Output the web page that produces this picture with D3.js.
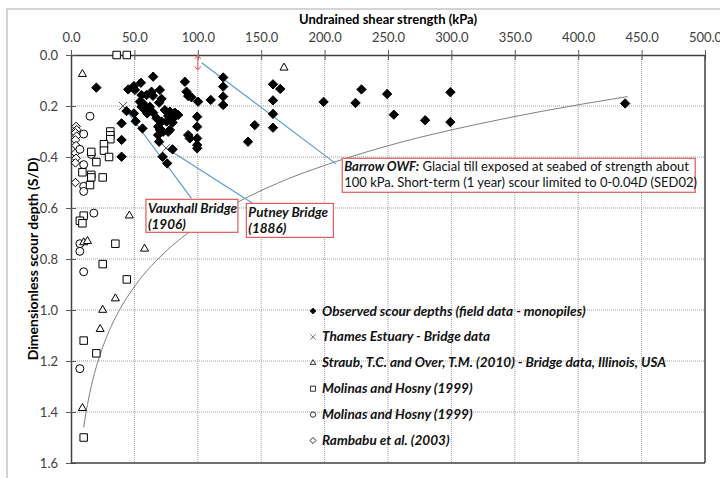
<!DOCTYPE html>
<html>
<head>
<meta charset="utf-8">
<script src="https://cdn.jsdelivr.net/npm/d3@7"></script>
<style>
  body { margin: 0; background: #fff; }
  svg { font-family: Lato, "Open Sans", sans-serif; }
</style>
</head>
<body>
<svg id="chart"></svg>
<script>
// values: [undrained shear strength kPa, S/D]
const monopiles = [
  [20, 0.128], [39.9, 0.268], [39.9, 0.333], [39.9, 0.399], [43.8, 0.22], [45.1, 0.135],
  [49.6, 0.122], [50.4, 0.137], [49.6, 0.229], [51, 0.26], [55.1, 0.109], [64.8, 0.085],
  [55.6, 0.157], [59.6, 0.157], [63.5, 0.144], [70.1, 0.137], [64.6, 0.16], [71.4, 0.172],
  [69.5, 0.187], [54.3, 0.183], [56.9, 0.19], [55.6, 0.203], [62.2, 0.203], [58.3, 0.216],
  [64.8, 0.226], [60.1, 0.229], [67.5, 0.248], [71.4, 0.261], [74, 0.216], [78, 0.222],
  [81.9, 0.226], [84.5, 0.235], [76.6, 0.239], [80.6, 0.248], [75.4, 0.261], [80.1, 0.265],
  [56.4, 0.288], [68.7, 0.281], [70.1, 0.294], [72.7, 0.301], [76.6, 0.301], [78, 0.294],
  [68.7, 0.314], [69.5, 0.34], [92.4, 0.314], [93.7, 0.327], [80.1, 0.37], [72.2, 0.399],
  [75.8, 0.425], [89.8, 0.105], [91.1, 0.144], [92.4, 0.161], [95, 0.166], [100.2, 0.183],
  [110.2, 0.176], [99.5, 0.242], [99.5, 0.281], [99.5, 0.327], [99.5, 0.353], [99.5, 0.366],
  [120, 0.088], [120, 0.124], [120, 0.163], [120, 0.196], [139.6, 0.34], [144.9, 0.275],
  [159.3, 0.115], [165, 0.133], [159.3, 0.178], [159.3, 0.231], [159.3, 0.285], [199.2, 0.184],
  [224.4, 0.188], [229.1, 0.135], [249.3, 0.153], [254.6, 0.234], [279.3, 0.256], [299.2, 0.146],
  [299.2, 0.263], [437, 0.19]
];
const thames = [[41, 0.2], [75, 0.365]];
const straub = [
  [9, 0.075], [168, 0.05], [46, 0.63], [10, 0.735], [13, 0.73], [58, 0.76],
  [35, 0.955], [25, 1.0], [23, 1.075], [9, 1.385]
];
const molinasSq = [
  [36, 0], [44, 0], [31, 0.3], [31, 0.315], [31, 0.33], [26, 0.35], [26, 0.375], [30, 0.4],
  [16, 0.38], [20, 0.42], [9, 0.46], [16, 0.47], [16, 0.48], [25, 0.48], [15, 0.51],
  [10, 0.63], [7, 0.65], [9, 0.66], [35, 0.74], [25, 0.82], [44, 0.88], [10, 1.12],
  [20, 1.17], [10, 1.5]
];
const molinasCi = [
  [15, 0.24], [10, 0.31], [7, 0.37], [16, 0.39], [10, 0.43], [10, 0.515], [10, 0.535],
  [18, 0.62], [7, 0.74], [7, 0.77], [10, 0.85], [7, 1.23]
];
const rambabu = [
  [4, 0.28], [4.5, 0.293], [3.5, 0.305], [4.5, 0.318], [3.5, 0.333], [4, 0.355],
  [3.5, 0.385], [4, 0.405], [3.5, 0.423], [3.5, 0.5]
];
// log trend line drawn in the reference
const trendX = [10, 12, 14, 17, 20, 25, 30, 38, 46, 57, 70, 85, 100, 120, 141, 170, 200, 240, 275, 320, 370, 439];
const trendY = [1.46, 1.398, 1.345, 1.278, 1.222, 1.146, 1.083, 1.002, 0.937, 0.863, 0.793, 0.726,
  0.67, 0.608, 0.553, 0.488, 0.433, 0.37, 0.323, 0.272, 0.222, 0.163];

const xTicks = [0, 50, 100, 150, 200, 250, 300, 350, 400, 450, 500];
const yTicks = [0, 0.2, 0.4, 0.6, 0.8, 1.0, 1.2, 1.4, 1.6];

const legendLabels = [
  'Observed scour depths (field data - monopiles)',
  'Thames Estuary - Bridge data',
  'Straub, T.C. and Over, T.M. (2010) - Bridge data, Illinois, USA',
  'Molinas and Hosny (1999)',
  'Molinas and Hosny (1999)',
  'Rambabu et al. (2003)'
];

const width = 720;
const height = 478;

const x = d3.scaleLinear().domain([0, 500]).range([71, 705]);
const y = d3.scaleLinear().domain([0, 1.6]).range([55, 463]);
const fmt = d3.format('.1f');

const svg = d3.select('#chart')
  .attr('width', width)
  .attr('height', height);

svg.append('rect')
  .attr('width', width).attr('height', height)
  .attr('fill', '#fff');

// outer chart frame
svg.append('rect')
  .attr('x', 7).attr('y', 9)
  .attr('width', 740).attr('height', 500)
  .attr('fill', 'none')
  .attr('stroke', '#d4d4d4')
  .attr('stroke-width', 2);

// grid
const grid = svg.append('g');
grid.selectAll('.vg')
  .data(xTicks.slice(1, -1))
  .enter().append('line')
  .attr('x1', d => x(d)).attr('x2', d => x(d))
  .attr('y1', y(0)).attr('y2', y(1.6))
  .attr('stroke', '#a0a0a0')
  .attr('stroke-dasharray', '1,1');
grid.selectAll('.hg')
  .data(yTicks.slice(1, -1))
  .enter().append('line')
  .attr('y1', d => y(d)).attr('y2', d => y(d))
  .attr('x1', x(0)).attr('x2', x(500))
  .attr('stroke', '#a0a0a0')
  .attr('stroke-dasharray', '1,1');

// axes
const topAxis = svg.append('g')
  .attr('transform', `translate(0,${y(0)})`)
  .call(d3.axisTop(x).tickValues(xTicks).tickFormat(fmt).tickSizeInner(5).tickSizeOuter(0).tickPadding(8));
const leftAxis = svg.append('g')
  .attr('transform', `translate(${x(0)},0)`)
  .call(d3.axisLeft(y).tickValues(yTicks).tickFormat(fmt).tickSizeInner(5).tickSizeOuter(0).tickPadding(8));

[topAxis, leftAxis].forEach(g => {
  g.select('.domain').attr('stroke', '#404040').attr('stroke-width', 1.5);
  g.selectAll('.tick line').attr('stroke', '#595959');
  g.selectAll('.tick text')
    .attr('fill', '#404040')
    .style('font-size', '13px')
    .style('font-family', 'Lato, sans-serif');
});
// ticks cross the axis line on both sides
topAxis.selectAll('.tick line').attr('y1', 5).attr('y2', -5);
leftAxis.selectAll('.tick line').attr('x1', 5).attr('x2', -5);

// right and bottom frame
svg.append('line')
  .attr('x1', x(500)).attr('x2', x(500)).attr('y1', y(0)).attr('y2', y(1.6))
  .attr('stroke', '#404040').attr('stroke-width', 1.5);
svg.append('line')
  .attr('x1', x(0)).attr('x2', x(500)).attr('y1', y(1.6)).attr('y2', y(1.6))
  .attr('stroke', '#404040').attr('stroke-width', 1.5);

// axis titles
svg.append('text')
  .attr('x', 388).attr('y', 24)
  .attr('text-anchor', 'middle')
  .style('font-weight', 'bold')
  .style('font-size', '13px')
  .text('Undrained shear strength (kPa)');
svg.append('text')
  .attr('transform', `translate(38,${(y(0) + y(1.6)) / 2}) rotate(-90)`)
  .attr('text-anchor', 'middle')
  .style('font-weight', 'bold')
  .style('font-size', '14px')
  .text('Dimensionless scour depth (S/D)');

// trend line
const trend = trendX.map((d, i) => [d, trendY[i]]);
svg.append('path')
  .datum(trend)
  .attr('fill', 'none')
  .attr('stroke', '#7f7f7f')
  .attr('stroke-width', 1)
  .attr('d', d3.line().x(d => x(d[0])).y(d => y(d[1])).curve(d3.curveMonotoneX));

// X marker type
const cross = {
  draw(ctx, size) {
    const r = Math.sqrt(size) / 2;
    ctx.moveTo(-r, -r); ctx.lineTo(r, r);
    ctx.moveTo(r, -r); ctx.lineTo(-r, r);
  }
};

const series = [
  { data: monopiles, type: d3.symbolDiamond2, size: 56, fill: '#000', stroke: '#000', lsize: 22 },
  { data: thames, type: cross, size: 64, fill: 'none', stroke: '#595959', lsize: 30 },
  { data: straub, type: d3.symbolTriangle2, size: 46, fill: '#fff', stroke: '#000', lsize: 22 },
  { data: molinasSq, type: d3.symbolSquare, size: 56, fill: '#fff', stroke: '#000', lsize: 26 },
  { data: molinasCi, type: d3.symbolCircle, size: 50, fill: '#fff', stroke: '#000', lsize: 22 },
  { data: rambabu, type: d3.symbolDiamond2, size: 46, fill: '#fff', stroke: '#000', lsize: 24 }
];

// leader lines (drawn under the markers)
const blue = '#5b9bd5';
const leaders = [
  [[103, 0.03], [209, 0.427]],
  [[41, 0.2], [95, 0.562]],
  [[75, 0.365], [143.5, 0.582]]
];
svg.selectAll('.leader')
  .data(leaders)
  .enter().append('line')
  .attr('x1', d => x(d[0][0])).attr('y1', d => y(d[0][1]))
  .attr('x2', d => x(d[1][0])).attr('y2', d => y(d[1][1]))
  .attr('stroke', blue)
  .attr('stroke-width', 1.2);

// series, drawn in reverse so filled monopiles sit on top
series.slice().reverse().forEach(s => {
  svg.append('g').selectAll('path')
    .data(s.data)
    .enter().append('path')
    .attr('transform', d => `translate(${x(d[0])},${y(d[1])})`)
    .attr('d', d3.symbol().type(s.type).size(s.size))
    .attr('fill', s.fill)
    .attr('stroke', s.stroke)
    .attr('stroke-width', 1);
});

// red double arrow at 100 kPa, 0 to 0.04D
const red = '#e05a5a';
svg.append('line')
  .attr('x1', x(100)).attr('x2', x(100)).attr('y1', y(0.005)).attr('y2', y(0.055))
  .attr('stroke', red).attr('stroke-width', 1);
svg.append('path')
  .attr('d', `M${x(100) - 3},${y(0) + 4}L${x(100)},${y(0)}L${x(100) + 3},${y(0) + 4}`)
  .attr('fill', 'none').attr('stroke', red);
svg.append('path')
  .attr('d', `M${x(100) - 3},${y(0.06) - 4}L${x(100)},${y(0.06)}L${x(100) + 3},${y(0.06) - 4}`)
  .attr('fill', 'none').attr('stroke', red);

// annotation boxes
const boxes = [
  { x: 213.9, y: 0.405, w: 353, h: 34 },
  { x: 59.1, y: 0.566, w: 92, h: 33 },
  { x: 138.3, y: 0.582, w: 87, h: 34 }
];
svg.selectAll('.box')
  .data(boxes)
  .enter().append('rect')
  .attr('x', d => x(d.x)).attr('y', d => y(d.y))
  .attr('width', d => d.w).attr('height', d => d.h)
  .attr('fill', '#fff')
  .attr('stroke', red)
  .attr('stroke-width', 1.2);

const barrow = svg.append('text')
  .attr('x', x(213.9) + 2).attr('y', y(0.405) + 13)
  .style('font-size', '13px')
  .attr('fill', '#111');
barrow.append('tspan').style('font-weight', 'bold').style('font-style', 'italic').text('Barrow OWF:');
barrow.append('tspan').text(' Glacial till exposed at seabed of strength about');
const barrow2 = svg.append('text')
  .attr('x', x(213.9) + 2).attr('y', y(0.405) + 29)
  .style('font-size', '13px')
  .attr('fill', '#111');
barrow2.append('tspan').text('100 kPa. Short-term (1 year) scour limited to 0-0.04');
barrow2.append('tspan').style('font-style', 'italic').text('D');
barrow2.append('tspan').text(' (SED02)');

const bridgeLabels = [
  { x: 59.1, y: 0.566, lines: ['Vauxhall Bridge', '(1906)'] },
  { x: 138.3, y: 0.582, lines: ['Putney Bridge', '(1886)'] }
];
bridgeLabels.forEach(b => {
  b.lines.forEach((t, i) => {
    svg.append('text')
      .attr('x', x(b.x) + 2)
      .attr('y', y(b.y) + 14 + i * 16)
      .style('font-size', '13.5px')
      .style('font-weight', 'bold')
      .style('font-style', 'italic')
      .attr('fill', '#111')
      .text(t);
  });
});

// legend, no background
const legend = svg.append('g')
  .attr('transform', 'translate(313,311)');
const item = legend.selectAll('g')
  .data(series)
  .enter().append('g')
  .attr('transform', (d, i) => `translate(0,${i * 25.9})`);
item.append('path')
  .attr('d', d => d3.symbol().type(d.type).size(d.lsize)())
  .attr('fill', d => d.fill)
  .attr('stroke', d => d.stroke)
  .attr('stroke-width', 0.8);
item.append('text')
  .attr('x', 9).attr('y', 4.5)
  .style('font-size', '13.6px')
  .style('font-weight', 'bold')
  .style('font-style', 'italic')
  .attr('fill', '#111')
  .text((d, i) => legendLabels[i]);
</script>
</body>
</html>
